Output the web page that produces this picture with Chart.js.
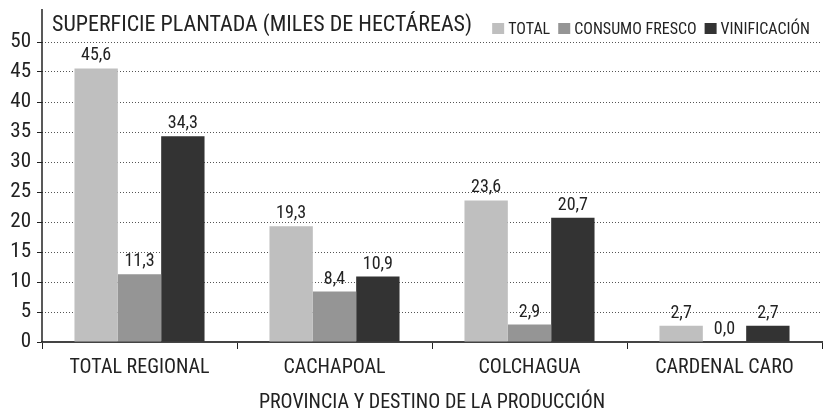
<!DOCTYPE html>
<html>
<head>
<meta charset="utf-8">
<script src="https://cdn.jsdelivr.net/npm/chart.js@4"></script>
<style>
  html, body { margin: 0; padding: 0; background: #fff; }
  #wrap { width: 824px; height: 416px; }
</style>
</head>
<body>
<div id="wrap"><canvas id="chart" width="824" height="416"></canvas></div>
<script>
// datos del gráfico
const categorias = ['TOTAL REGIONAL', 'CACHAPOAL', 'COLCHAGUA', 'CARDENAL CARO'];
const total = [45.6, 19.3, 23.6, 2.7];
const consumoFresco = [11.3, 8.4, 2.9, 0.0];
const vinificacion = [34.3, 10.9, 20.7, 2.7];
const yTicks = [0, 5, 10, 15, 20, 25, 30, 35, 40, 45, 50];

const FONT = '"Roboto Condensed", "Liberation Sans Narrow", sans-serif';
const textColor = '#222';

// etiquetas de valor sobre las barras (coma decimal)
const valueLabels = {
    id: 'valueLabels',
    afterDatasetsDraw(chart) {
        const ctx = chart.ctx;
        ctx.save();
        ctx.font = '18px ' + FONT;
        ctx.fillStyle = textColor;
        ctx.textAlign = 'center';
        ctx.textBaseline = 'alphabetic';
        chart.data.datasets.forEach((ds, i) => {
            chart.getDatasetMeta(i).data.forEach((bar, j) => {
                const txt = ds.data[j].toFixed(1).replace('.', ',');
                ctx.fillText(txt, bar.x, bar.y - 8);
            });
        });
        ctx.restore();
    }
};

// título y leyenda dentro del área
const titleLegend = {
    id: 'titleLegend',
    afterDraw(chart) {
        const ctx = chart.ctx;
        const area = chart.chartArea;
        ctx.save();
        ctx.fillStyle = textColor;
        ctx.textBaseline = 'alphabetic';
        ctx.font = '22px ' + FONT;
        ctx.fillText('SUPERFICIE PLANTADA (MILES DE HECTÁREAS)', area.left + 10, 31);

        ctx.font = '16px ' + FONT;
        let x = area.right - 12;
        const items = chart.data.datasets.slice().reverse();
        // de derecha a izquierda
        items.forEach(ds => {
            const w = ctx.measureText(ds.label).width;
            x -= w;
            ctx.fillStyle = textColor;
            ctx.fillText(ds.label, x, 34);
            x -= 16;
            ctx.fillStyle = ds.backgroundColor;
            ctx.fillRect(x, 23, 12, 11);
            x -= 8;
        });

        // línea del eje Y
        ctx.strokeStyle = '#222';
        ctx.lineWidth = 1.5;
        ctx.beginPath();
        ctx.moveTo(area.left, area.top - 3);
        ctx.lineTo(area.left, area.bottom);
        ctx.stroke();
        ctx.restore();
    }
};

const ctx = document.getElementById('chart').getContext('2d');
new Chart(ctx, {
    type: 'bar',
    data: {
        labels: categorias,
        datasets: [
            { label: 'TOTAL', data: total, backgroundColor: '#bfbfbf' },
            { label: 'CONSUMO FRESCO', data: consumoFresco, backgroundColor: '#959595' },
            { label: 'VINIFICACIÓN', data: vinificacion, backgroundColor: '#333333' }
        ]
    },
    options: {
        responsive: false,
        animation: false,
        layout: { padding: { top: 12, right: 2, left: 0, bottom: 0 } },
        datasets: {
            bar: { barPercentage: 1.0, categoryPercentage: 0.667 }
        },
        plugins: {
            legend: { display: false },
            tooltip: { enabled: false }
        },
        scales: {
            y: {
                min: 0,
                max: 55,
                afterBuildTicks: (axis) => {
                    axis.ticks = yTicks.map(v => ({ value: v }));
                },
                afterFit: (axis) => {
                    axis.width = 42;
                    axis.paddingTop = 0;
                    axis.paddingBottom = 0;
                },
                ticks: {
                    font: { family: FONT, size: 21 },
                    color: textColor,
                    padding: 6
                },
                grid: {
                    color: (c) => c.tick && c.tick.value === 0 ? 'rgba(0,0,0,0)' : '#555',
                    lineWidth: 1,
                    tickColor: '#222',
                    tickLength: 5,
                    tickBorderDash: []
                },
                border: { display: false, dash: [1, 2] }
            },
            x: {
                afterFit: (axis) => { axis.height = 74; },
                ticks: {
                    font: { family: FONT, size: 20 },
                    color: textColor,
                    padding: 7
                },
                grid: {
                    offset: true,
                    drawOnChartArea: false,
                    tickColor: '#222',
                    tickLength: 7
                },
                border: { display: true, color: '#444', width: 2 },
                title: {
                    display: true,
                    text: 'PROVINCIA Y DESTINO DE LA PRODUCCIÓN',
                    font: { family: FONT, size: 20 },
                    color: textColor,
                    padding: { top: 4, bottom: 1 }
                }
            }
        }
    },
    plugins: [valueLabels, titleLegend]
});
</script>
</body>
</html>
